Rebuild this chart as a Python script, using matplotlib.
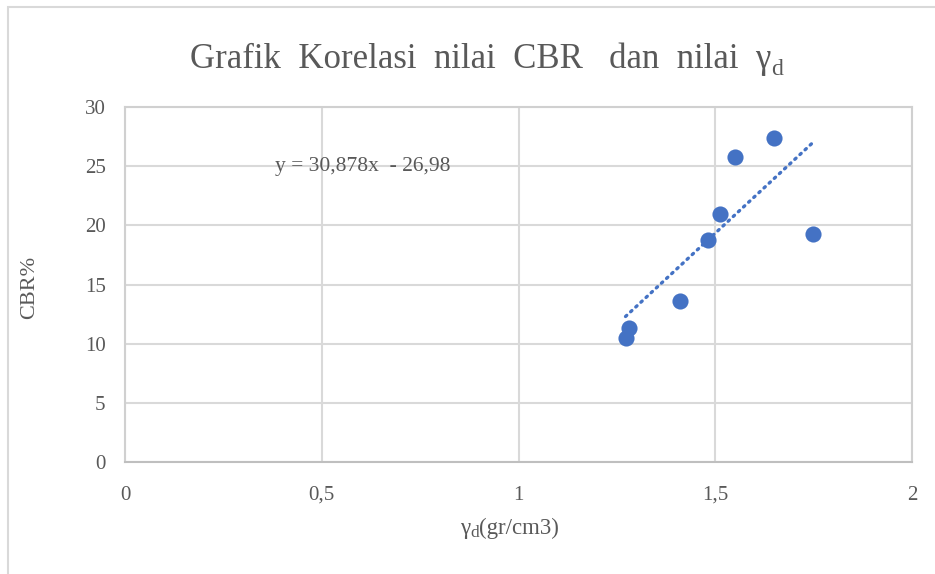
import matplotlib
matplotlib.use("Agg")
import matplotlib.pyplot as plt
from matplotlib.patches import Rectangle
import numpy as np

# Data
gamma_d = [1.272, 1.282, 1.411, 1.482, 1.513, 1.551, 1.650, 1.749]
cbr = [10.5, 11.3, 13.6, 18.8, 21.0, 25.8, 27.4, 19.3]
slope = 30.878
intercept = -26.98
x_ticks = [0, 0.5, 1, 1.5, 2]
x_tick_labels = ["0", "0,5", "1", "1,5", "2"]
y_ticks = [0, 5, 10, 15, 20, 25, 30]
title_main = "Grafik  Korelasi  nilai  CBR   dan  nilai  γ"
sub_d = "d"
xlabel_main = "γ"
xlabel_rest = "(gr/cm3)"
ylabel_text = "CBR%"
eq_text = "y = 30,878x  - 26,98"

plt.rcParams['font.family'] = ['Liberation Serif', 'DejaVu Serif']

W, H = 935, 574
fig = plt.figure(figsize=(W / 100, H / 100), dpi=100)
fig.patch.set_facecolor('white')
GRAY = '#595959'

# chart area border
fig.patches.append(Rectangle((8 / W, -0.05), 1.2, 1 - 7 / H + 0.05, transform=fig.transFigure,
                             fill=False, edgecolor='#d9d9d9', linewidth=1.5))

ax = fig.add_axes([125 / W, 1 - 462 / H, (912 - 125) / W, (462 - 107) / H])
ax.set_xlim(0, 2)
ax.set_ylim(0, 30)
ax.set_xticks(x_ticks)
ax.set_xticklabels(x_tick_labels)
ax.set_yticks(y_ticks)
ax.grid(True, color='#d9d9d9', linewidth=1.5)
ax.set_axisbelow(True)
for s in ax.spines.values():
    s.set_color('#d0d0d0')
    s.set_linewidth(1.5)
ax.spines['bottom'].set_color('#bfbfbf')
ax.tick_params(length=0, labelsize=15, colors=GRAY)
ax.tick_params(axis='x', pad=17)
ax.tick_params(axis='y', pad=14)

gx = np.array(gamma_d)
xt = np.array([gx.min(), gx.max()])
ax.plot(xt, slope * xt + intercept, color='#4472C4', linewidth=2.4,
        linestyle=(0, (0.5, 1.6)), dash_capstyle='round', zorder=2)
ax.scatter(gamma_d, cbr, s=135, color='#4472C4', zorder=3, linewidths=0)

ax.text(0.38, 25.0, eq_text, fontsize=15.5, color=GRAY, va='center', ha='left')

fig.text(30 / W, 1 - 287 / H, ylabel_text, fontsize=16, color=GRAY, ha='center', va='center', rotation=90)

renderer = fig.canvas.get_renderer()


def after(text_artist, s, size, dy_px, baseline_px):
    bb = text_artist.get_window_extent(renderer)
    return fig.text(bb.x1 / W, (baseline_px - dy_px) / H, s, fontsize=size, color=GRAY,
                    ha='left', va='baseline')


# title: main part then subscript d
t_base = H - 68
t1 = fig.text(190 / W, t_base / H, title_main, fontsize=25, color=GRAY, ha='left', va='baseline')
after(t1, sub_d, 17, 7, t_base)

# x label: gamma, subscript d, then units
x_base = H - 534
l1 = fig.text(460 / W, x_base / H, xlabel_main, fontsize=16.5, color=GRAY, ha='left', va='baseline')
l2 = after(l1, sub_d, 12.5, 3, x_base)
after(l2, xlabel_rest, 16.5, 0, x_base)

fig.savefig('out.png', dpi=100)
